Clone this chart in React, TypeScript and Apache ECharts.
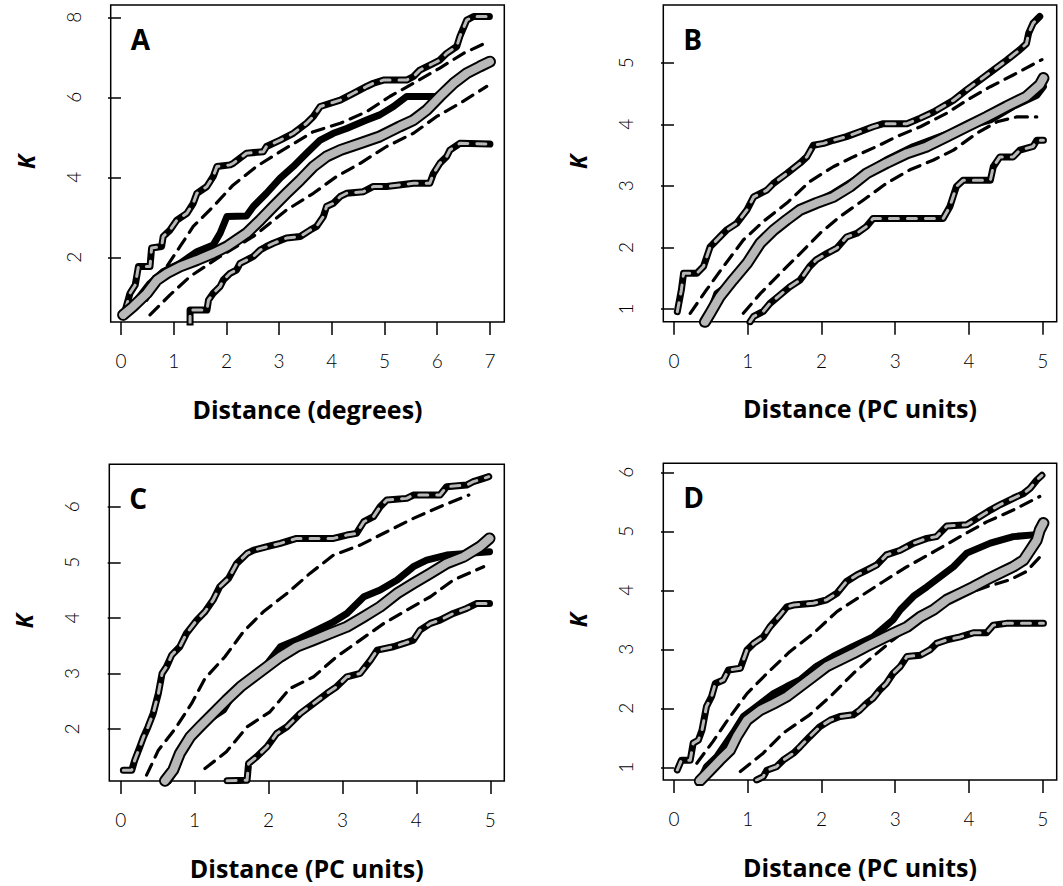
import React, { useEffect, useRef } from "react";
import * as echarts from "echarts";

// ---------- Panel A (Distance in degrees) ----------
const A_upperEnv = [[0.08,0.68],[0.17,1.10],[0.27,1.31],[0.33,1.77],[0.55,1.77],[0.58,2.23],[0.77,2.27],[0.80,2.52],[0.93,2.68],[1.06,2.93],[1.25,3.10],[1.37,3.35],[1.44,3.60],[1.63,3.77],[1.75,4.02],[1.82,4.27],[2.07,4.31],[2.13,4.35],[2.38,4.60],[2.70,4.64],[2.76,4.77],[3.02,4.93],[3.27,5.10],[3.52,5.35],[3.65,5.52],[3.78,5.77],[4.16,5.93],[4.41,6.10],[4.66,6.27],[4.79,6.35],[4.98,6.43],[5.42,6.43],[5.55,6.52],[5.67,6.68],[5.93,6.85],[6.05,6.93],[6.18,7.10],[6.37,7.27],[6.43,7.52],[6.56,7.93],[6.69,8.02],[6.99,8.02]];
const A_lowerEnv = [[1.31,0.30],[1.31,0.68],[1.63,0.68],[1.66,0.93],[1.75,1.10],[1.88,1.27],[1.94,1.43],[2.07,1.60],[2.19,1.68],[2.26,1.85],[2.38,1.93],[2.51,2.02],[2.64,2.18],[2.76,2.27],[2.89,2.35],[3.14,2.48],[3.40,2.52],[3.59,2.68],[3.71,2.77],[3.84,3.02],[3.90,3.27],[4.03,3.35],[4.16,3.52],[4.28,3.60],[4.60,3.64],[4.79,3.77],[5.04,3.77],[5.55,3.85],[5.86,3.85],[5.93,4.10],[6.05,4.35],[6.18,4.52],[6.24,4.68],[6.43,4.85],[7.00,4.83]];
const A_mean = [[0.04,0.56],[0.23,0.77],[0.49,1.10],[0.68,1.43],[0.87,1.60],[1.12,1.77],[1.44,1.93],[1.75,2.10],[2.01,2.27],[2.19,2.43],[2.38,2.60],[2.64,2.93],[2.89,3.27],[3.14,3.60],[3.40,3.93],[3.65,4.27],[3.90,4.52],[4.16,4.68],[4.54,4.85],[4.91,5.02],[5.29,5.27],[5.55,5.43],[5.80,5.68],[6.05,6.02],[6.31,6.35],[6.56,6.60],[6.81,6.77],[7.00,6.89]];
const A_observed = [[0.04,0.60],[0.30,0.93],[0.55,1.35],[0.80,1.64],[1.12,1.85],[1.44,2.14],[1.75,2.31],[1.88,2.60],[2.01,3.02],[2.38,3.03],[2.51,3.27],[2.76,3.60],[3.02,3.98],[3.27,4.27],[3.52,4.60],[3.78,4.93],[4.03,5.10],[4.28,5.22],[4.66,5.43],[4.91,5.56],[5.17,5.77],[5.42,6.02],[6.05,6.02],[6.31,6.35],[6.56,6.60],[6.81,6.77],[7.00,6.89]];
const A_dashHigh = [[0.49,0.93],[0.87,1.77],[1.12,2.27],[1.37,2.77],[1.75,3.27],[2.13,3.81],[2.57,4.27],[3.02,4.64],[3.65,5.14],[4.16,5.35],[4.66,5.64],[5.10,6.02],[5.55,6.35],[6.05,6.73],[6.50,7.10],[6.97,7.39]];
const A_dashLow = [[0.55,0.56],[0.93,1.06],[1.31,1.52],[1.88,2.02],[2.51,2.52],[3.14,3.18],[3.65,3.60],[4.09,4.02],[4.54,4.35],[5.04,4.77],[5.55,5.10],[5.99,5.52],[6.43,5.85],[6.94,6.27]];

// ---------- Panel B ----------
const B_upperEnv = [[0.045,0.957],[0.10,1.31],[0.13,1.58],[0.31,1.58],[0.40,1.69],[0.49,2.01],[0.62,2.17],[0.71,2.28],[0.85,2.39],[0.99,2.61],[1.08,2.82],[1.26,2.93],[1.35,3.04],[1.53,3.20],[1.71,3.37],[1.80,3.47],[1.89,3.66],[2.03,3.69],[2.16,3.74],[2.34,3.80],[2.52,3.88],[2.70,3.96],[2.84,4.01],[3.16,4.01],[3.34,4.10],[3.52,4.20],[3.79,4.39],[3.97,4.56],[4.15,4.72],[4.33,4.88],[4.51,5.04],[4.69,5.21],[4.78,5.31],[4.81,5.48],[4.87,5.64],[4.96,5.75]];
const B_lowerEnv = [[1.03,0.79],[1.08,0.88],[1.21,0.96],[1.30,1.09],[1.44,1.23],[1.57,1.36],[1.71,1.47],[1.84,1.69],[1.93,1.80],[2.07,1.90],[2.21,1.99],[2.34,2.17],[2.48,2.23],[2.61,2.34],[2.70,2.47],[3.65,2.47],[3.74,2.66],[3.83,2.99],[3.92,3.09],[4.29,3.09],[4.33,3.31],[4.42,3.47],[4.60,3.47],[4.69,3.58],[4.87,3.64],[4.92,3.74],[5.01,3.74]];
const B_mean = [[0.42,0.79],[0.49,0.93],[0.62,1.20],[0.80,1.47],[0.99,1.74],[1.17,2.07],[1.35,2.28],[1.53,2.45],[1.71,2.61],[1.93,2.72],[2.16,2.82],[2.39,2.99],[2.61,3.20],[2.88,3.37],[3.16,3.53],[3.43,3.64],[3.70,3.80],[3.97,3.96],[4.24,4.12],[4.51,4.29],[4.78,4.45],[4.96,4.64],[5.01,4.75]];
const B_observed = [[0.44,0.79],[0.58,1.25],[0.76,1.41],[0.99,1.74],[1.26,2.15],[1.53,2.45],[1.80,2.66],[2.16,2.88],[2.52,3.15],[2.88,3.42],[3.25,3.64],[3.61,3.80],[3.97,3.96],[4.29,4.07],[4.60,4.29],[4.92,4.47],[5.01,4.61]];
const B_dashHigh = [[0.22,0.93],[0.44,1.31],[0.67,1.69],[0.94,2.12],[1.21,2.42],[1.53,2.72],[1.84,3.07],[2.16,3.31],[2.43,3.47],[2.75,3.64],[3.02,3.80],[3.34,3.96],[3.70,4.18],[3.97,4.39],[4.29,4.61],[4.60,4.80],[4.99,5.05]];
const B_dashLow = [[0.94,0.93],[1.17,1.25],[1.44,1.58],[1.71,1.90],[1.98,2.23],[2.25,2.50],[2.57,2.77],[2.88,3.04],[3.20,3.26],[3.52,3.42],[3.79,3.58],[4.10,3.85],[4.38,4.04],[4.65,4.12],[4.92,4.12]];

// ---------- Panel C ----------
const C_upperEnv = [[0.036,1.26],[0.15,1.26],[0.19,1.44],[0.26,1.68],[0.31,1.86],[0.37,2.04],[0.44,2.28],[0.51,2.64],[0.56,3.00],[0.62,3.12],[0.69,3.33],[0.80,3.48],[0.89,3.72],[1.03,3.96],[1.14,4.11],[1.25,4.32],[1.34,4.56],[1.46,4.71],[1.57,4.98],[1.71,5.16],[1.80,5.22],[1.98,5.28],[2.16,5.34],[2.38,5.43],[2.88,5.43],[3.06,5.49],[3.19,5.52],[3.29,5.73],[3.42,5.82],[3.51,6.00],[3.60,6.12],[3.87,6.15],[3.96,6.21],[4.32,6.21],[4.41,6.36],[4.68,6.39],[4.77,6.45],[4.91,6.51],[4.98,6.54]];
const C_lowerEnv = [[1.44,1.07],[1.71,1.08],[1.73,1.38],[1.84,1.50],[1.98,1.68],[2.11,1.92],[2.25,2.04],[2.43,2.28],[2.61,2.46],[2.79,2.64],[2.92,2.76],[3.06,2.94],[3.24,3.00],[3.38,3.24],[3.47,3.42],[3.69,3.48],[3.83,3.54],[3.96,3.60],[4.05,3.78],[4.19,3.90],[4.32,3.96],[4.50,4.08],[4.68,4.17],[4.82,4.26],[4.99,4.26]];
const C_mean = [[0.60,1.07],[0.71,1.26],[0.80,1.56],[0.94,1.86],[1.07,2.04],[1.25,2.28],[1.43,2.52],[1.62,2.76],[1.80,2.94],[1.98,3.12],[2.16,3.30],[2.38,3.48],[2.61,3.60],[2.83,3.72],[3.06,3.84],[3.29,4.02],[3.51,4.20],[3.74,4.44],[3.96,4.62],[4.19,4.80],[4.41,4.98],[4.64,5.10],[4.86,5.28],[4.99,5.43]];
const C_observed = [[0.65,1.07],[0.76,1.32],[0.89,1.80],[1.07,2.04],[1.25,2.22],[1.39,2.34],[1.53,2.64],[1.71,2.82],[1.89,3.00],[2.02,3.24],[2.16,3.48],[2.38,3.60],[2.61,3.75],[2.88,3.93],[3.06,4.08],[3.29,4.38],[3.51,4.50],[3.74,4.68],[3.96,4.92],[4.14,5.04],[4.41,5.13],[4.68,5.16],[4.99,5.19]];
const C_dashHigh = [[0.35,1.17],[0.51,1.62],[0.74,2.01],[0.96,2.46],[1.14,2.91],[1.41,3.30],[1.66,3.75],[1.93,4.11],[2.25,4.44],[2.56,4.80],[2.88,5.13],[3.24,5.31],[3.60,5.55],[3.96,5.79],[4.32,6.00],[4.71,6.21]];
const C_dashLow = [[1.14,1.29],[1.43,1.59],[1.71,2.04],[2.02,2.31],[2.29,2.73],[2.61,2.94],[2.92,3.30],[3.24,3.60],[3.56,3.90],[3.87,4.14],[4.19,4.38],[4.50,4.68],[4.91,4.92]];

// ---------- Panel D ----------
const D_upperEnv = [[0.045,0.955],[0.10,1.12],[0.22,1.12],[0.26,1.41],[0.33,1.46],[0.38,1.63],[0.44,2.03],[0.51,2.20],[0.56,2.42],[0.67,2.48],[0.74,2.65],[0.90,2.68],[0.99,2.99],[1.08,3.10],[1.21,3.21],[1.30,3.38],[1.44,3.58],[1.53,3.72],[1.62,3.75],[1.89,3.78],[2.07,3.84],[2.21,3.95],[2.34,4.15],[2.48,4.26],[2.61,4.34],[2.75,4.43],[2.88,4.60],[3.07,4.68],[3.25,4.80],[3.43,4.88],[3.56,4.91],[3.70,5.09],[3.97,5.11],[4.15,5.25],[4.29,5.36],[4.42,5.45],[4.60,5.56],[4.74,5.64],[4.83,5.73],[4.92,5.87],[4.99,5.95]];
const D_lowerEnv = [[1.12,0.785],[1.21,0.84],[1.26,0.95],[1.39,1.01],[1.48,1.12],[1.62,1.24],[1.71,1.35],[1.84,1.52],[1.98,1.69],[2.12,1.80],[2.25,1.86],[2.43,1.89],[2.52,1.97],[2.61,2.08],[2.70,2.17],[2.79,2.31],[2.88,2.42],[2.97,2.59],[3.07,2.71],[3.16,2.88],[3.34,2.90],[3.47,2.99],[3.56,3.10],[3.70,3.16],[3.88,3.21],[4.06,3.28],[4.24,3.28],[4.33,3.41],[4.51,3.44],[5.01,3.44]];
const D_mean = [[0.35,0.77],[0.49,0.95],[0.62,1.12],[0.76,1.29],[0.85,1.52],[0.99,1.80],[1.17,1.97],[1.35,2.08],[1.53,2.20],[1.71,2.37],[1.89,2.54],[2.07,2.71],[2.25,2.82],[2.43,2.93],[2.61,3.05],[2.79,3.16],[2.97,3.27],[3.16,3.38],[3.34,3.55],[3.52,3.67],[3.70,3.84],[3.88,3.95],[4.06,4.06],[4.24,4.18],[4.42,4.29],[4.60,4.40],[4.74,4.51],[4.83,4.68],[4.92,4.85],[4.96,5.02],[5.01,5.14]];
const D_observed = [[0.35,0.77],[0.44,1.01],[0.58,1.18],[0.80,1.58],[0.94,1.86],[1.12,2.03],[1.35,2.25],[1.53,2.37],[1.71,2.48],[1.93,2.71],[2.16,2.88],[2.43,3.05],[2.70,3.21],[2.97,3.50],[3.07,3.67],[3.25,3.90],[3.43,4.06],[3.61,4.23],[3.79,4.40],[3.97,4.63],[4.29,4.80],[4.60,4.91],[4.87,4.94],[4.96,4.94]];
const D_dashHigh = [[0.31,1.07],[0.53,1.44],[0.71,1.77],[0.99,2.25],[1.26,2.59],[1.57,2.96],[1.89,3.27],[2.21,3.64],[2.52,3.89],[2.84,4.15],[3.16,4.40],[3.56,4.68],[3.88,4.91],[4.24,5.16],[4.60,5.36],[4.96,5.59]];
const D_dashLow = [[0.90,0.93],[1.21,1.24],[1.48,1.58],[1.84,1.89],[2.12,2.20],[2.43,2.59],[2.70,2.88],[2.97,3.16],[3.29,3.47],[3.61,3.72],[3.92,3.92],[4.24,4.06],[4.56,4.18],[4.78,4.32],[5.01,4.63]];

// ---------- Axes ticks & labels ----------
const xTicksDeg = [0, 1, 2, 3, 4, 5, 6, 7];
const xTicksPC = [0, 1, 2, 3, 4, 5];
const yTicksA = [2, 4, 6, 8];
const yTicksB = [1, 2, 3, 4, 5];
const yTicksC = [2, 3, 4, 5, 6];
const yTicksD = [1, 2, 3, 4, 5, 6];
const panelLetters = ["A", "B", "C", "D"];
const xTitles = ["Distance (degrees)", "Distance (PC units)", "Distance (PC units)", "Distance (PC units)"];
const yTitle = "K";

const TICK_FONT = "Lato, 'DejaVu Sans', sans-serif";
const TITLE_FONT = "'Open Sans', 'Noto Sans', sans-serif";
const GRAY = "#b8b8b8";

type Panel = {
  box: { left: number; top: number; width: number; height: number };
  xRange: [number, number];
  yRange: [number, number];
  xTicks: number[];
  yTicks: number[];
  upper: number[][];
  lower: number[][];
  mean: number[][];
  observed: number[][];
  dashHigh: number[][];
  dashLow: number[][];
};

const panels: Panel[] = [
  { box: { left: 110.7, top: 5, width: 393.6, height: 317 }, xRange: [-0.196, 7.273], yRange: [0.382, 8.307], xTicks: xTicksDeg, yTicks: yTicksA, upper: A_upperEnv, lower: A_lowerEnv, mean: A_mean, observed: A_observed, dashHigh: A_dashHigh, dashLow: A_dashLow },
  { box: { left: 663.3, top: 5, width: 393.4, height: 316.7 }, xRange: [-0.145, 5.19], yRange: [0.794, 5.937], xTicks: xTicksPC, yTicks: yTicksB, upper: B_upperEnv, lower: B_lowerEnv, mean: B_mean, observed: B_observed, dashHigh: B_dashHigh, dashLow: B_dashLow },
  { box: { left: 109.3, top: 464.3, width: 395, height: 316.7 }, xRange: [-0.154, 5.19], yRange: [1.065, 6.763], xTicks: xTicksPC, yTicks: yTicksC, upper: C_upperEnv, lower: C_lowerEnv, mean: C_mean, observed: C_observed, dashHigh: C_dashHigh, dashLow: C_dashLow },
  { box: { left: 663.3, top: 463.3, width: 393.4, height: 316.7 }, xRange: [-0.145, 5.19], yRange: [0.785, 6.153], xTicks: xTicksPC, yTicks: yTicksD, upper: D_upperEnv, lower: D_lowerEnv, mean: D_mean, observed: D_observed, dashHigh: D_dashHigh, dashLow: D_dashLow },
];

function lineSeries(i: number, data: number[][], color: string, width: number, type: any = "solid", z = 2) {
  return {
    type: "line",
    xAxisIndex: i,
    yAxisIndex: i,
    data,
    showSymbol: false,
    symbol: "none",
    silent: true,
    clip: true,
    z,
    lineStyle: { color, width, type, cap: "round", join: "round" },
  };
}

function buildOption() {
  const grid: any[] = [];
  const xAxis: any[] = [];
  const yAxis: any[] = [];
  const series: any[] = [];
  const graphic: any[] = [];

  panels.forEach((p, i) => {
    grid.push({ ...p.box, show: true, borderColor: "#000", borderWidth: 1.5, backgroundColor: "transparent", containLabel: false });
    xAxis.push({
      type: "value",
      gridIndex: i,
      min: p.xRange[0],
      max: p.xRange[1],
      axisLine: { show: false },
      splitLine: { show: false },
      axisTick: { show: true, inside: false, length: 13, lineStyle: { color: "#000", width: 1.5 }, customValues: p.xTicks },
      axisLabel: { customValues: p.xTicks, margin: 29, fontSize: 19, color: "#000", fontFamily: TICK_FONT, fontWeight: 300 },
      name: xTitles[i],
      nameLocation: "middle",
      nameGap: 74,
      nameTextStyle: { fontSize: 25, fontWeight: "bold", fontFamily: TITLE_FONT, color: "#000" },
    });
    yAxis.push({
      type: "value",
      gridIndex: i,
      min: p.yRange[0],
      max: p.yRange[1],
      axisLine: { show: false },
      splitLine: { show: false },
      axisTick: { show: true, inside: false, length: 13, lineStyle: { color: "#000", width: 1.5 }, customValues: p.yTicks },
      axisLabel: { customValues: p.yTicks, rotate: 90, margin: 28, fontSize: 19, color: "#000", fontFamily: TICK_FONT, fontWeight: 300 },
    });

    // dashed reference lines
    series.push(lineSeries(i, p.dashHigh, "#000", 3.2, [12, 8], 2));
    series.push(lineSeries(i, p.dashLow, "#000", 3.2, [12, 8], 2));
    // envelopes: black with grey dashes
    series.push(lineSeries(i, p.upper, "#000", 7, "solid", 3));
    series.push(lineSeries(i, p.upper, GRAY, 3, [9, 9], 4));
    series.push(lineSeries(i, p.lower, "#000", 7, "solid", 3));
    series.push(lineSeries(i, p.lower, GRAY, 3, [9, 9], 4));
    // observed
    series.push(lineSeries(i, p.observed, "#000", 7, "solid", 5));
    // mean: grey with black outline
    series.push(lineSeries(i, p.mean, "#000", 12, "solid", 6));
    series.push(lineSeries(i, p.mean, GRAY, 8, "solid", 7));

    graphic.push({
      type: "text",
      x: p.box.left + 20,
      y: p.box.top + 34,
      z: 100,
      style: { text: panelLetters[i], font: `bold 28px ${TITLE_FONT}`, fill: "#000", textAlign: "left", textVerticalAlign: "middle" },
    });
    graphic.push({
      type: "text",
      x: p.box.left - 85,
      y: p.box.top + 157,
      rotation: Math.PI / 2,
      z: 100,
      style: { text: yTitle, font: `italic bold 23px ${TITLE_FONT}`, fill: "#000", textAlign: "center", textVerticalAlign: "middle" },
    });
  });

  return { animation: false, backgroundColor: "#fff", grid, xAxis, yAxis, series, graphic };
}

export default function App() {
  const ref = useRef<HTMLDivElement>(null);
  useEffect(() => {
    if (!ref.current) return;
    const chart = echarts.init(ref.current, undefined, { renderer: "svg" });
    chart.setOption(buildOption() as any);
    return () => chart.dispose();
  }, []);
  return <div ref={ref} style={{ position: "absolute", left: 0, top: 0, width: 1063, height: 886, background: "#fff" }} />;
}
